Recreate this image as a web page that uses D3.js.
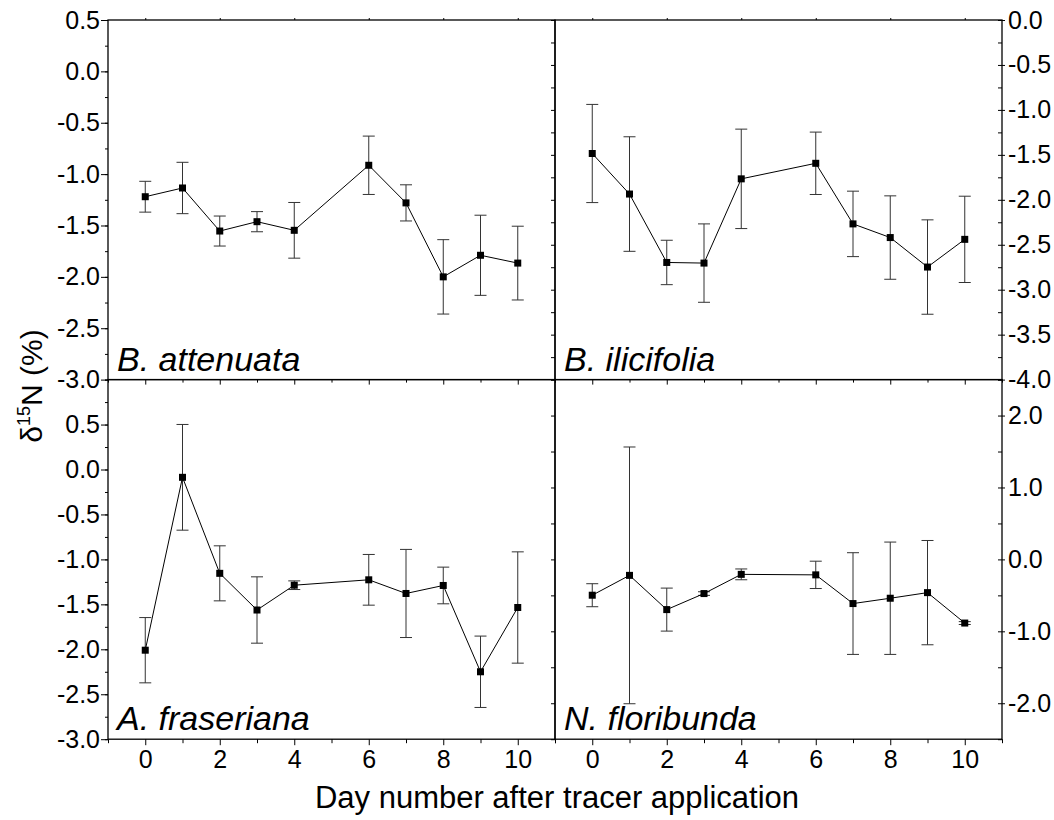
<!DOCTYPE html>
<html>
<head>
<meta charset="utf-8">
<script src="https://cdn.jsdelivr.net/npm/d3@7"></script>
<style>
    body { margin: 0; background: #fff; }
    text { font-family: "Liberation Sans", Arial, sans-serif; fill: #000; }
</style>
</head>
<body>
<svg id="drawing_region"></svg>
<script>
// values (delta 15N, mean and standard error)
const days = [0, 1, 2, 3, 4, 6, 7, 8, 9, 10];

const attenuataMean = [-1.22, -1.135, -1.554, -1.463, -1.547, -0.914, -1.28, -2.0, -1.79, -1.866];
const attenuataErr  = [0.15, 0.25, 0.146, 0.098, 0.271, 0.284, 0.176, 0.362, 0.39, 0.359];

const ilicifoliaMean = [-1.485, -1.936, -2.697, -2.704, -1.767, -1.594, -2.268, -2.42, -2.748, -2.44];
const ilicifoliaErr  = [0.546, 0.637, 0.247, 0.436, 0.553, 0.347, 0.364, 0.464, 0.525, 0.48];

const fraserianaMean = [-2.01, -0.087, -1.155, -1.563, -1.287, -1.227, -1.379, -1.29, -2.25, -1.535];
const fraserianaErr  = [0.363, 0.588, 0.306, 0.369, 0.048, 0.282, 0.49, 0.204, 0.397, 0.619];

const floribundaMean = [-0.498, -0.222, -0.698, -0.475, -0.208, -0.215, -0.614, -0.54, -0.462, -0.885];
const floribundaErr  = [0.16, 1.785, 0.299, 0.025, 0.075, 0.19, 0.707, 0.781, 0.725, 0.02];

// tick labels
const xTicks = [0, 2, 4, 6, 8, 10];
const xMinorTicks = [-1, 1, 3, 5, 7, 9, 11];
const attenuataTicks  = [0.5, 0.0, -0.5, -1.0, -1.5, -2.0, -2.5, -3.0];
const ilicifoliaTicks = [0.0, -0.5, -1.0, -1.5, -2.0, -2.5, -3.0, -3.5, -4.0];
const fraserianaTicks = [0.5, 0.0, -0.5, -1.0, -1.5, -2.0, -2.5, -3.0];
const floribundaTicks = [2.0, 1.0, 0.0, -1.0, -2.0];

const config = {
    width: 1054,
    height: 820,
    left: 108,
    top: 20,
    panel_width: 447,
    panel_height: 359.6,
};

const panels = [
    { name: "B. attenuata",  mean: attenuataMean,  err: attenuataErr,  col: 0, row: 0, domain: [-3, 0.5],   ticks: attenuataTicks,  minor: 0.25 },
    { name: "B. ilicifolia", mean: ilicifoliaMean, err: ilicifoliaErr, col: 1, row: 0, domain: [-4, 0],     ticks: ilicifoliaTicks, minor: 0.25 },
    { name: "A. fraseriana", mean: fraserianaMean, err: fraserianaErr, col: 0, row: 1, domain: [-3, 1],     ticks: fraserianaTicks, minor: 0.25 },
    { name: "N. floribunda", mean: floribundaMean, err: floribundaErr, col: 1, row: 1, domain: [-2.5, 2.5], ticks: floribundaTicks, minor: 0.5 },
];

const svg = d3.select('#drawing_region')
    .attr('width', config.width)
    .attr('height', config.height);

const fmt = d => d.toFixed(1);

function minorValues(domain, step) {
    const out = [];
    for (let v = domain[0]; v <= domain[1] + 1e-9; v += step) out.push(+v.toFixed(3));
    return out;
}

function styleAxis(g) {
    g.select('.domain').remove();
    g.selectAll('.tick line').attr('stroke', '#000').attr('stroke-width', 1);
    g.selectAll('.tick text').attr('font-size', '25px').attr('fill', '#000');
}

panels.forEach(p => {
    const W = config.panel_width, H = config.panel_height;
    const chart = svg.append('g')
        .attr('transform', `translate(${config.left + p.col * W}, ${config.top + p.row * H})`);

    const xscale = d3.scaleLinear().domain([-1, 11]).range([0, W]);
    const yscale = d3.scaleLinear().domain(p.domain).range([H, 0]);
    const minor = minorValues(p.domain, p.minor);

    // y axes
    if (p.col === 0) {
        chart.append('g').call(d3.axisLeft(yscale).tickValues(minor).tickSize(3).tickFormat('')).call(styleAxis);
        chart.append('g').call(d3.axisLeft(yscale).tickValues(p.ticks).tickSize(7).tickPadding(1).tickFormat(fmt)).call(styleAxis);
    } else {
        chart.append('g').call(d3.axisLeft(yscale).tickValues(minor).tickSize(4).tickFormat('')).call(styleAxis);
        chart.append('g').attr('transform', `translate(${W},0)`)
            .call(d3.axisRight(yscale).tickValues(minor).tickSize(-4).tickFormat('')).call(styleAxis);
        chart.append('g').attr('transform', `translate(${W},0)`)
            .call(d3.axisRight(yscale).tickValues(p.ticks).tickSize(3).tickPadding(3).tickFormat(fmt)).call(styleAxis);
    }

    // x axes
    if (p.row === 0) {
        chart.append('g').call(d3.axisTop(xscale).tickValues(xTicks).tickSize(2).tickFormat('')).call(styleAxis);
    } else {
        chart.append('g').call(d3.axisBottom(xscale).tickValues(xTicks).tickSize(5).tickFormat('')).call(styleAxis);
        chart.append('g').call(d3.axisBottom(xscale).tickValues(xMinorTicks).tickSize(3).tickFormat('')).call(styleAxis);
        chart.append('g').attr('transform', `translate(0,${H})`)
            .call(d3.axisBottom(xscale).tickValues(xMinorTicks).tickSize(4).tickFormat('')).call(styleAxis);
        chart.append('g').attr('transform', `translate(0,${H})`)
            .call(d3.axisBottom(xscale).tickValues(xTicks).tickSize(6).tickPadding(5).tickFormat(d3.format('d'))).call(styleAxis);
    }

    chart.append('rect')
        .attr('x', 0).attr('y', 0)
        .attr('width', W).attr('height', H)
        .attr('fill', 'none')
        .attr('stroke', '#000')
        .attr('stroke-width', 1.3);

    const data = days.map((d, i) => ({ x: d, y: p.mean[i], e: p.err[i] }));

    // error bars
    const bars = chart.append('g').attr('stroke', '#333').attr('stroke-width', 1);
    bars.selectAll('.bar').data(data).enter().append('line')
        .attr('x1', d => xscale(d.x)).attr('x2', d => xscale(d.x))
        .attr('y1', d => yscale(d.y - d.e)).attr('y2', d => yscale(d.y + d.e));
    [-1, 1].forEach(s => {
        bars.selectAll('.cap' + s).data(data).enter().append('line')
            .attr('x1', d => xscale(d.x) - 6).attr('x2', d => xscale(d.x) + 6)
            .attr('y1', d => yscale(d.y + s * d.e)).attr('y2', d => yscale(d.y + s * d.e));
    });

    const line = d3.line().x(d => xscale(d.x)).y(d => yscale(d.y));
    chart.append('path')
        .datum(data)
        .attr('d', line)
        .attr('fill', 'none')
        .attr('stroke', '#000')
        .attr('stroke-width', 1);

    chart.selectAll('.marker').data(data).enter().append('rect')
        .attr('x', d => xscale(d.x) - 3.5)
        .attr('y', d => yscale(d.y) - 3.5)
        .attr('width', 7).attr('height', 7)
        .attr('fill', '#000');

    chart.append('text')
        .attr('x', 9)
        .attr('y', H - 9)
        .attr('font-size', '34px')
        .attr('font-style', 'italic')
        .text(p.name);
});

// axis titles
svg.append('text')
    .attr('x', 557)
    .attr('y', 808)
    .attr('text-anchor', 'middle')
    .attr('font-size', '31px')
    .text('Day number after tracer application');

const ylabel = svg.append('text')
    .attr('transform', `translate(42, 386) rotate(-90)`)
    .attr('text-anchor', 'middle')
    .attr('font-size', '30px');
ylabel.append('tspan').text('δ');
ylabel.append('tspan').attr('font-size', '18px').attr('dy', -12).text('15');
ylabel.append('tspan').attr('dy', 12).text('N (%)');
</script>
</body>
</html>
